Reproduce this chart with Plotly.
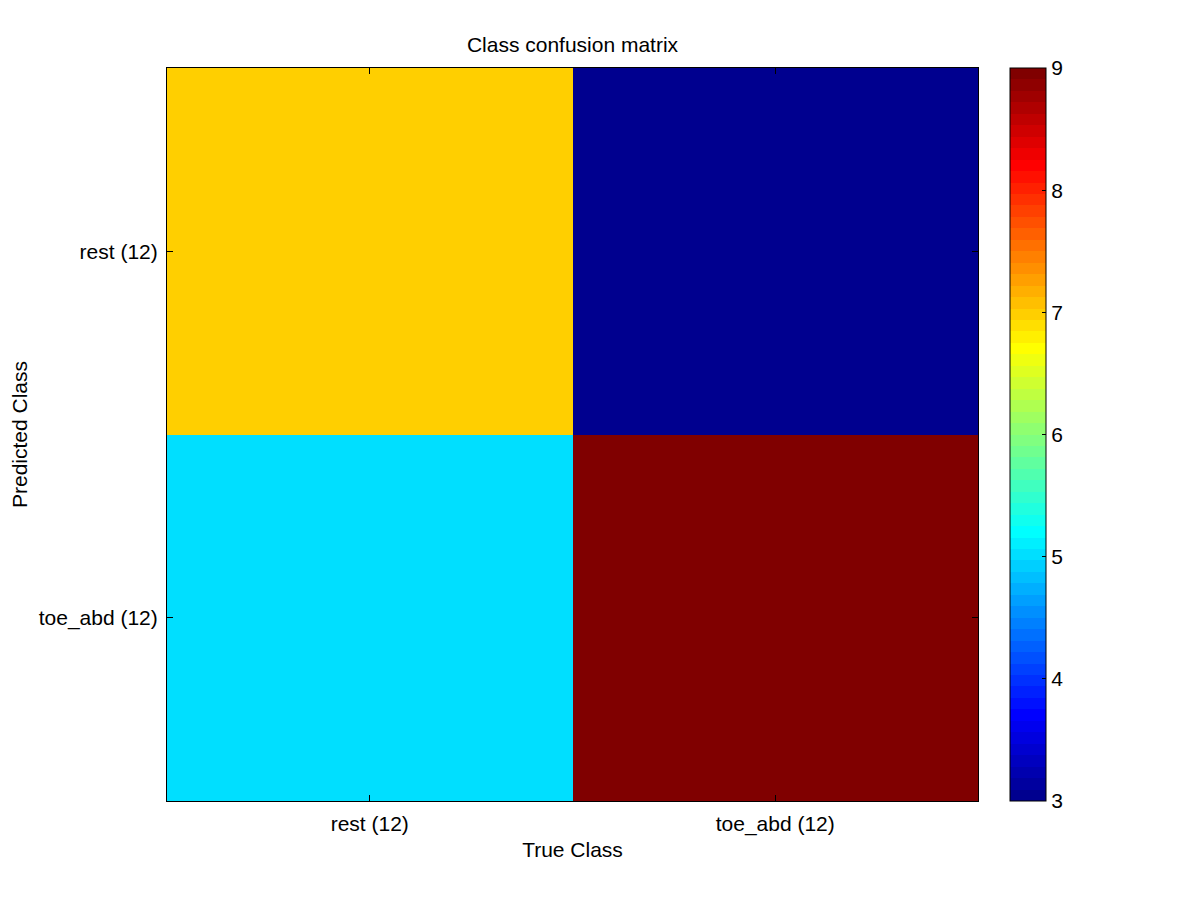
import numpy as np
import plotly.graph_objects as go

true_classes = ["rest (12)", "toe_abd (12)"]
pred_classes = ["rest (12)", "toe_abd (12)"]
# rows = predicted class, columns = true class
counts_rest_pred = [7, 3]
counts_toe_pred = [5, 9]
cbar_ticks = [3, 4, 5, 6, 7, 8, 9]


def jet(m=64):
    n = int(np.ceil(m / 4))
    u = np.concatenate([np.arange(1, n + 1) / n, np.ones(n - 1), np.arange(n, 0, -1) / n])
    g = int(np.ceil(n / 2)) - (1 if m % 4 == 1 else 0) + np.arange(1, len(u) + 1)
    r = g + n
    b = g - n
    J = np.zeros((m, 3))
    gm = (g >= 1) & (g <= m)
    J[g[gm] - 1, 1] = u[gm]
    rm = r <= m
    J[r[rm] - 1, 0] = u[rm]
    bm = b >= 1
    nb = bm.sum()
    J[b[bm] - 1, 2] = u[len(u) - nb:]
    return J


J = jet(64)
colorscale = []
for i, c in enumerate(J):
    col = "rgb(%d,%d,%d)" % tuple(int(round(v * 255)) for v in c)
    colorscale.append([i / 64, col])
    colorscale.append([(i + 1) / 64, col])

z = [counts_rest_pred, counts_toe_pred]

# page body has an 8px default margin; compensate
OFF = 8
L, R, T, B = 167 - OFF, 978 - OFF, 68 - OFF, 801 - OFF
W = R - L

font = dict(family="Liberation Sans, Arial, sans-serif", size=21, color="black")

fig = go.Figure(go.Heatmap(
    z=z, x=[0, 1], y=[0, 1],
    zmin=3, zmax=9, colorscale=colorscale,
    xgap=0, ygap=0, hoverinfo="z",
    colorbar=dict(
        x=(1010 - 167) / W, xanchor="left", xref="paper",
        y=0, yanchor="bottom", len=1, lenmode="fraction",
        thickness=36, thicknessmode="pixels",
        outlinecolor="black", outlinewidth=1,
        tickvals=cbar_ticks, ticks="inside", ticklen=4, tickcolor="black",
        tickfont=font,
        xpad=0, ypad=0,
    ),
))

fig.update_layout(
    width=1200, height=900,
    margin=dict(l=L, r=1200 - R, t=T, b=900 - B, autoexpand=False),
    paper_bgcolor="white", plot_bgcolor="white",
    font=font,
    title=dict(text="Class confusion matrix", x=(L + R) / 2 / 1200, xanchor="center",
               y=1 - (45 - OFF) / 900, yanchor="middle", font=dict(size=21)),
    xaxis=dict(
        range=[-0.5, 1.5], tickvals=[0, 1], ticktext=true_classes,
        showline=True, mirror="ticks", linecolor="black", linewidth=1,
        ticks="inside", ticklen=6, tickcolor="black", showgrid=False, zeroline=False,
        title=dict(text="True Class", standoff=7, font=font),
        tickfont=font, ticklabelstandoff=4,
    ),
    yaxis=dict(
        range=[1.5, -0.5], tickvals=[0, 1], ticktext=pred_classes,
        showline=True, mirror="ticks", linecolor="black", linewidth=1,
        ticks="inside", ticklen=6, tickcolor="black", showgrid=False, zeroline=False,
        title=dict(text="Predicted Class", standoff=8, font=font),
        tickfont=font, ticklabelstandoff=4,
    ),
)

fig.write_html("out.html")
